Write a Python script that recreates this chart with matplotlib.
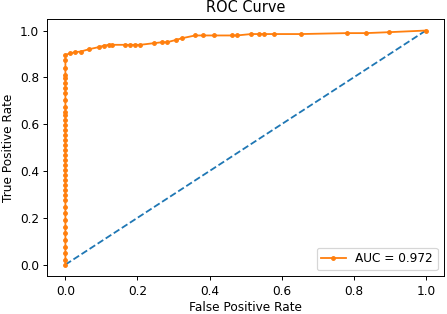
import matplotlib
matplotlib.use("Agg")
import matplotlib.pyplot as plt

# ROC points
fpr = [0.0, 0.0, 0.0, 0.0, 0.0, 0.0, 0.0, 0.0, 0.0, 0.0,
       0.0, 0.0, 0.0, 0.0, 0.0, 0.0, 0.0, 0.0, 0.0, 0.0,
       0.0, 0.0, 0.0, 0.0, 0.0, 0.0, 0.0, 0.0, 0.0, 0.0,
       0.0, 0.0, 0.0, 0.0, 0.0, 0.0, 0.0, 0.0, 0.0,
       0.014, 0.028, 0.042, 0.065, 0.092, 0.106, 0.12, 0.129,
       0.166, 0.18, 0.194, 0.208, 0.245, 0.268, 0.282, 0.307,
       0.323, 0.36, 0.383, 0.411, 0.462, 0.476, 0.515, 0.538,
       0.552, 0.578, 0.654, 0.78, 0.834, 0.898, 1.0]
tpr = [0.0, 0.02, 0.049, 0.077, 0.106, 0.134, 0.162, 0.191, 0.22, 0.248,
       0.276, 0.298, 0.319, 0.341, 0.362, 0.383, 0.405, 0.426, 0.447, 0.469,
       0.49, 0.512, 0.533, 0.554, 0.576, 0.597, 0.618, 0.64, 0.654, 0.675,
       0.704, 0.732, 0.754, 0.775, 0.797, 0.811, 0.839, 0.875, 0.896,
       0.903, 0.908, 0.91, 0.92, 0.929, 0.935, 0.939, 0.939,
       0.939, 0.939, 0.939, 0.939, 0.946, 0.95, 0.95, 0.96,
       0.967, 0.979, 0.979, 0.979, 0.979, 0.979, 0.985, 0.985,
       0.985, 0.985, 0.985, 0.989, 0.989, 0.993, 1.0]
auc = 0.972

dpi = 87
fig, ax = plt.subplots(figsize=(447 / dpi, 314 / dpi), dpi=dpi)
fig.subplots_adjust(left=0.106, right=0.993, top=0.94, bottom=0.12)

ax.plot([0, 1], [0, 1], linestyle='--')
ax.plot(fpr, tpr, marker='.', label='AUC = %.3f' % auc)
ax.set_title('ROC Curve')
ax.set_xlabel('False Positive Rate', labelpad=2.5)
ax.set_ylabel('True Positive Rate')
ax.legend(loc='lower right')

fig.savefig('out.png', dpi=dpi)
